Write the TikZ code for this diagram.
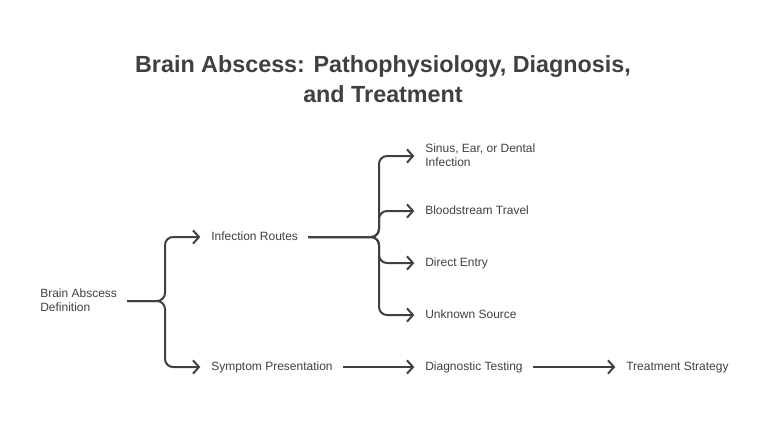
\documentclass[tikz,border=0pt]{standalone}
\usepackage{fontspec}
\setmainfont{Liberation Sans}
\usetikzlibrary{arrows.meta}
\definecolor{ink}{HTML}{404040}
\tikzset{
  lbl/.style={anchor=west, inner sep=0pt, text=ink, align=left,
    font=\fontsize{9}{10.5}\selectfont,
    execute at begin node=\rule{0pt}{7.2pt},
    execute at end node=\rule[-1.6pt]{0pt}{1.6pt}},
  conn/.style={draw=ink, line width=1.5pt, rounded corners=6pt,
    shorten <=7.5pt, shorten >=8pt,
    -{Straight Barb[length=4.5pt,width=10pt]}},
}
\begin{document}
\begin{tikzpicture}[x=0.75pt,y=-0.75pt]
\useasboundingbox (0,0) rectangle (768,437);
% title
\node[text=ink, align=center, font=\fontsize{17.5}{22.5}\selectfont\bfseries] (title) at (383,79)
  {Brain Abscess: Pathophysiology, Diagnosis,\\and Treatment};
% nodes
\node[lbl] (def) at (40,301) {Brain Abscess\\Definition};
\node[lbl] (inf) at (211,237) {Infection Routes};
\node[lbl] (sym) at (211,367) {Symptom Presentation};
\node[lbl] (sin) at (425,156) {Sinus, Ear, or Dental\\Infection};
\node[lbl] (blo) at (425,211) {Bloodstream Travel};
\node[lbl] (dir) at (425,263) {Direct Entry};
\node[lbl] (unk) at (425,315) {Unknown Source};
\node[lbl] (dia) at (425,367) {Diagnostic Testing};
\node[lbl] (tre) at (626,367) {Treatment Strategy};
% first fork
\draw[conn] (def.east) -- (165,301) |- (inf.west);
\draw[conn] (def.east) -- (165,301) |- (sym.west);
% second fork
\draw[conn] (inf.east) -- (379,237) |- (sin.west);
\draw[conn] (inf.east) -- (379,237) |- (blo.west);
\draw[conn] (inf.east) -- (379,237) |- (dir.west);
\draw[conn] (inf.east) -- (379,237) |- (unk.west);
% chain
\draw[conn] (sym.east) -- (dia.west);
\draw[conn] (dia.east) -- (tre.west);
\end{tikzpicture}
\end{document}
